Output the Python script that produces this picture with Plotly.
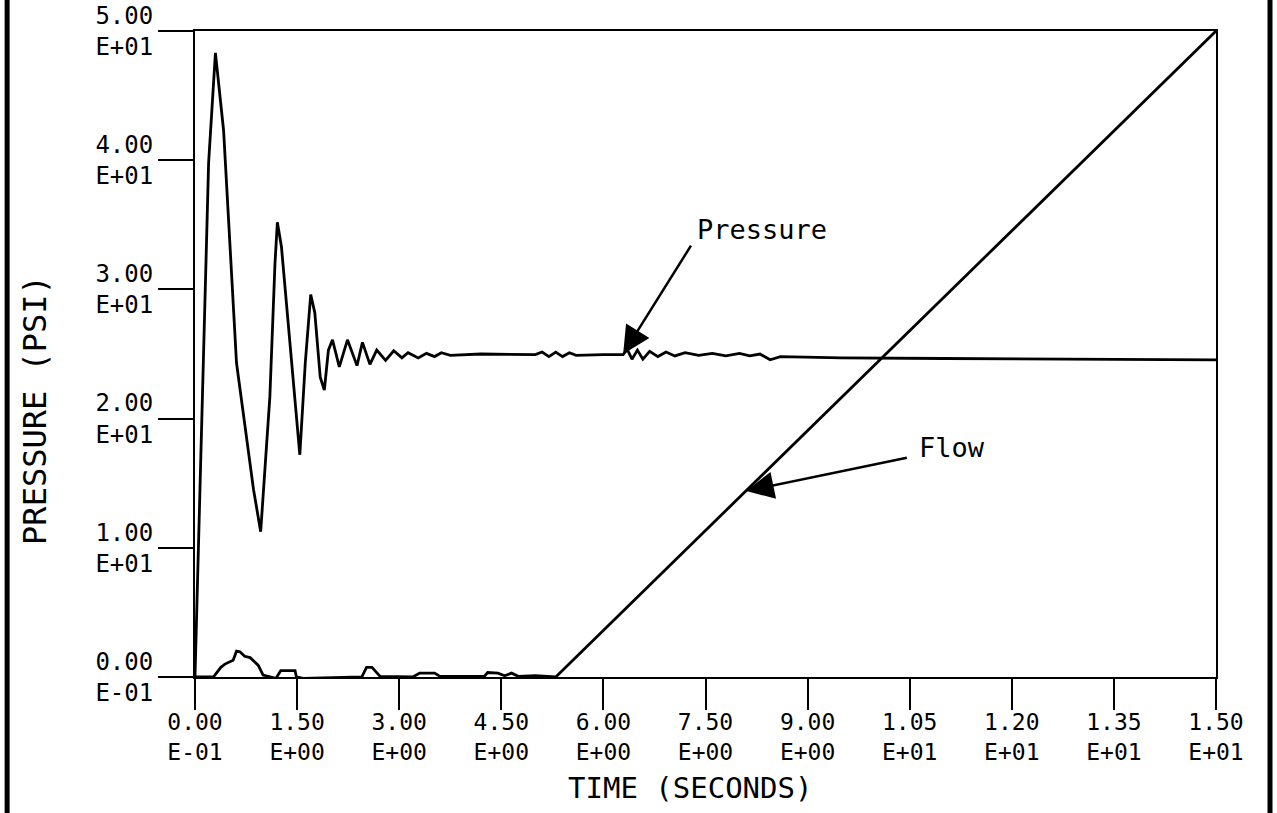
import plotly.graph_objects as go

# ---- data ----
pressure_t = [0.0, 0.12, 0.20, 0.30, 0.42, 0.61, 0.86, 0.965, 1.10, 1.175, 1.21, 1.27,
              1.54, 1.62, 1.70, 1.76, 1.84, 1.90, 1.96, 2.02, 2.12, 2.24, 2.38, 2.46,
              2.57, 2.67, 2.80, 2.92, 3.04, 3.13, 3.28, 3.40, 3.52, 3.62, 3.75, 4.2,
              5.0, 5.1, 5.2, 5.3, 5.4, 5.5, 5.6, 6.0, 6.29, 6.35, 6.42, 6.50, 6.58,
              6.68, 6.80, 6.92, 7.05, 7.20, 7.40, 7.60, 7.80, 8.00, 8.15, 8.30, 8.45,
              8.60, 9.5, 11.0, 13.0, 15.0]
pressure_v = [0.0, 24.3, 39.8, 48.3, 42.3, 24.3, 14.5, 11.25, 21.7, 32.0, 35.2, 33.3,
              17.2, 24.3, 29.6, 28.2, 23.2, 22.2, 25.3, 26.1, 24.0, 26.1, 24.1, 25.9,
              24.2, 25.3, 24.5, 25.25, 24.7, 25.1, 24.7, 25.05, 24.8, 25.1, 24.9, 25.0,
              24.95, 25.15, 24.8, 25.15, 24.8, 25.1, 24.9, 24.95, 24.95, 25.35, 24.6,
              25.3, 24.6, 25.2, 24.8, 25.15, 24.85, 25.1, 24.9, 25.05, 24.85, 25.05,
              24.85, 25.0, 24.55, 24.8, 24.7, 24.65, 24.6, 24.55]

flow_t = [0.0, 0.27, 0.38, 0.44, 0.56, 0.61, 0.66, 0.73, 0.81, 0.85, 0.93, 1.0,
          1.19, 1.26, 1.47, 1.49, 1.59, 2.45, 2.52, 2.60, 2.72, 3.20, 3.30, 3.52,
          3.60, 4.25, 4.30, 4.45, 4.55, 4.65, 4.75, 5.0, 5.3, 15.0]
flow_v = [0.0, 0.0, 0.75, 1.0, 1.3, 2.0, 1.95, 1.6, 1.5, 1.3, 0.9, 0.15,
          -0.1, 0.5, 0.5, 0.0, -0.1, 0.0, 0.75, 0.75, 0.05, 0.0, 0.3, 0.3,
          0.05, 0.05, 0.35, 0.3, 0.1, 0.3, 0.05, 0.1, 0.0, 50.0]

x_tick_vals = [0, 1.5, 3, 4.5, 6, 7.5, 9, 10.5, 12, 13.5, 15]
x_tick_text = ["0.00<br>E-01", "1.50<br>E+00", "3.00<br>E+00", "4.50<br>E+00",
               "6.00<br>E+00", "7.50<br>E+00", "9.00<br>E+00", "1.05<br>E+01",
               "1.20<br>E+01", "1.35<br>E+01", "1.50<br>E+01"]
y_tick_vals = [0, 10, 20, 30, 40, 50]
y_tick_text = ["0.00<br>E-01", "1.00<br>E+01", "2.00<br>E+01", "3.00<br>E+01",
               "4.00<br>E+01", "5.00<br>E+01"]

FONT = "DejaVu Sans Mono"

fig = go.Figure()
fig.add_trace(go.Scatter(x=pressure_t, y=pressure_v, mode="lines",
                         line=dict(color="black", width=2.8), name="Pressure"))
fig.add_trace(go.Scatter(x=flow_t, y=flow_v, mode="lines",
                         line=dict(color="black", width=2.8), name="Flow"))

fig.update_layout(
    width=1277, height=813,
    margin=dict(l=195, r=61, t=31, b=136),
    paper_bgcolor="white", plot_bgcolor="white",
    showlegend=False,
    font=dict(family=FONT, color="black", size=23),
)
fig.update_xaxes(range=[0, 15], tickvals=x_tick_vals, ticktext=x_tick_text,
                 ticks="outside", ticklen=31, tickwidth=2, tickcolor="black",
                 showline=True, linecolor="black", linewidth=2, mirror=True,
                 showgrid=False, zeroline=False, automargin=False,
                 ticklabelstandoff=-8,
                 tickfont=dict(family=FONT, size=23, color="black"))
fig.update_yaxes(range=[0, 50], tickvals=y_tick_vals, ticktext=y_tick_text,
                 ticks="outside", ticklen=35, tickwidth=2, tickcolor="black",
                 showline=True, linecolor="black", linewidth=2, mirror=True,
                 showgrid=False, zeroline=False, automargin=False,
                 tickfont=dict(family=FONT, size=24, color="black"))

# axis titles
fig.add_annotation(text="TIME (SECONDS)", xref="paper", yref="paper",
                   x=0.485, y=-0.172, xanchor="center", yanchor="middle",
                   showarrow=False,
                   font=dict(family=FONT, size=29, color="black"))
fig.add_annotation(text="PRESSURE (PSI)", xref="paper", yref="paper",
                   x=-0.157, y=0.413, xanchor="center", yanchor="middle",
                   showarrow=False, textangle=-90,
                   font=dict(family=FONT, size=32, color="black"))

# labels with arrows
fig.add_annotation(text="Pressure", x=7.34, y=34.6, xref="x", yref="y",
                   xanchor="left", yanchor="middle", showarrow=False,
                   font=dict(family=FONT, size=27, color="black"))
fig.add_annotation(text="", x=6.29, y=25.0, ax=7.30, ay=33.5,
                   xref="x", yref="y", axref="x", ayref="y",
                   showarrow=True, arrowhead=2, arrowsize=2.2, arrowwidth=2.5,
                   arrowcolor="black", standoff=0)
fig.add_annotation(text="Flow", x=10.6, y=17.8, xref="x", yref="y",
                   xanchor="left", yanchor="middle", showarrow=False,
                   font=dict(family=FONT, size=27, color="black"))
fig.add_annotation(text="", x=8.10, y=14.4, ax=10.48, ay=17.0,
                   xref="x", yref="y", axref="x", ayref="y",
                   showarrow=True, arrowhead=2, arrowsize=2.2, arrowwidth=2.5,
                   arrowcolor="black", standoff=0)

# thick page border lines
fig.add_shape(type="line", xref="paper", yref="paper", x0=-0.184, x1=-0.184,
              y0=-0.22, y1=1.06, line=dict(color="black", width=5))
fig.add_shape(type="line", xref="paper", yref="paper", x0=1.0529, x1=1.0529,
              y0=-0.22, y1=1.06, line=dict(color="black", width=5))

fig.write_html("out.html")
